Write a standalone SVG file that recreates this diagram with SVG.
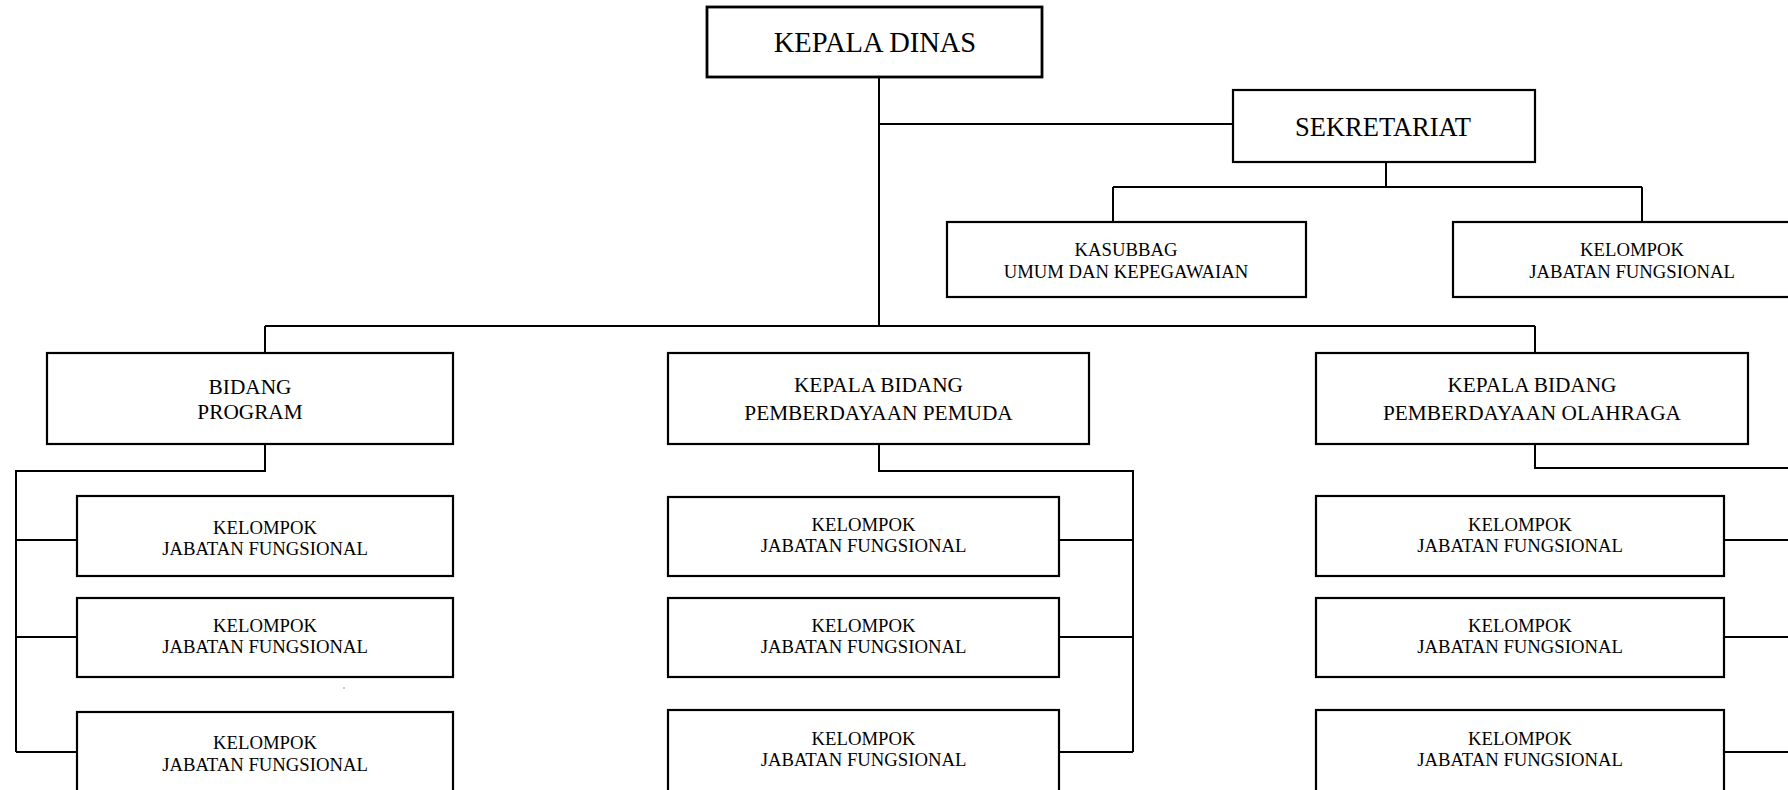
<svg xmlns="http://www.w3.org/2000/svg" width="1788" height="790" viewBox="0 0 1788 790">
<style>
.box{fill:#fff;stroke:#000;stroke-width:2.2}
.main{stroke-width:2.8}
.con{fill:none;stroke:#000;stroke-width:2}
text{font-family:"Liberation Serif","Times New Roman",serif;fill:#000;text-anchor:middle}
.t28{font-size:28.5px}
.t26{font-size:26.5px}
.t21{font-size:21.3px}
.t18{font-size:18.7px}
</style>
<rect width="1788" height="790" fill="#fff"/>
<g id="connectors">
<path class="con" d="M879 77V326M879 124H1233M1386 162V187M1113 187H1642M1113 187V222M1642 187V222"/>
<path class="con" d="M265 326H1535M265 326V353M1535 326V353"/>
<path class="con" d="M265 444V471H16V752M16 540H77M16 637H77M16 752H77"/>
<path class="con" d="M879 444V471H1133V752M1059 540H1133M1059 637H1133M1059 752H1133"/>
<path class="con" d="M1535 444V468H1788M1724 540H1788M1724 637H1788M1724 752H1788"/>
</g>
<g id="kepala-dinas"><rect class="box main" x="707" y="7" width="335" height="70"/><text class="t28" x="875" y="52">KEPALA DINAS</text></g>
<g id="sekretariat"><rect class="box" x="1233" y="90" width="302" height="72"/><text class="t26" x="1383" y="136">SEKRETARIAT</text></g>
<g id="kasubbag"><rect class="box" x="947" y="222" width="359" height="75"/><text class="t18" x="1126" y="256">KASUBBAG</text><text class="t18" x="1126" y="278">UMUM DAN KEPEGAWAIAN</text></g>
<g id="sek-jf"><rect class="box" x="1453" y="222" width="358" height="75"/><text class="t18" x="1632" y="256">KELOMPOK</text><text class="t18" x="1632" y="278">JABATAN FUNGSIONAL</text></g>
<g id="bidang-program"><rect class="box" x="47" y="353" width="406" height="91"/><text class="t21" x="250" y="394">BIDANG</text><text class="t21" x="250" y="419">PROGRAM</text></g>
<g id="bidang-pemuda"><rect class="box" x="668" y="353" width="421" height="91"/><text class="t21" x="878.5" y="392">KEPALA BIDANG</text><text class="t21" x="878.5" y="420">PEMBERDAYAAN PEMUDA</text></g>
<g id="bidang-olahraga"><rect class="box" x="1316" y="353" width="432" height="91"/><text class="t21" x="1532" y="392">KEPALA BIDANG</text><text class="t21" x="1532" y="420">PEMBERDAYAAN OLAHRAGA</text></g>
<g id="program-jf1"><rect class="box" x="77" y="496" width="376" height="80"/><text class="t18" x="265" y="534">KELOMPOK</text><text class="t18" x="265" y="555">JABATAN FUNGSIONAL</text></g>
<g id="program-jf2"><rect class="box" x="77" y="598" width="376" height="79"/><text class="t18" x="265" y="632">KELOMPOK</text><text class="t18" x="265" y="653">JABATAN FUNGSIONAL</text></g>
<g id="program-jf3"><rect class="box" x="77" y="712" width="376" height="100"/><text class="t18" x="265" y="749">KELOMPOK</text><text class="t18" x="265" y="771">JABATAN FUNGSIONAL</text></g>
<g id="pemuda-jf1"><rect class="box" x="668" y="497" width="391" height="79"/><text class="t18" x="863.5" y="531">KELOMPOK</text><text class="t18" x="863.5" y="552">JABATAN FUNGSIONAL</text></g>
<g id="pemuda-jf2"><rect class="box" x="668" y="598" width="391" height="79"/><text class="t18" x="863.5" y="632">KELOMPOK</text><text class="t18" x="863.5" y="653">JABATAN FUNGSIONAL</text></g>
<g id="pemuda-jf3"><rect class="box" x="668" y="710" width="391" height="100"/><text class="t18" x="863.5" y="745">KELOMPOK</text><text class="t18" x="863.5" y="766">JABATAN FUNGSIONAL</text></g>
<g id="olahraga-jf1"><rect class="box" x="1316" y="496" width="408" height="80"/><text class="t18" x="1520" y="531">KELOMPOK</text><text class="t18" x="1520" y="552">JABATAN FUNGSIONAL</text></g>
<g id="olahraga-jf2"><rect class="box" x="1316" y="598" width="408" height="79"/><text class="t18" x="1520" y="632">KELOMPOK</text><text class="t18" x="1520" y="653">JABATAN FUNGSIONAL</text></g>
<g id="olahraga-jf3"><rect class="box" x="1316" y="710" width="408" height="100"/><text class="t18" x="1520" y="745">KELOMPOK</text><text class="t18" x="1520" y="766">JABATAN FUNGSIONAL</text></g>
<circle cx="344" cy="688" r="0.8" fill="#888"/>
</svg>
